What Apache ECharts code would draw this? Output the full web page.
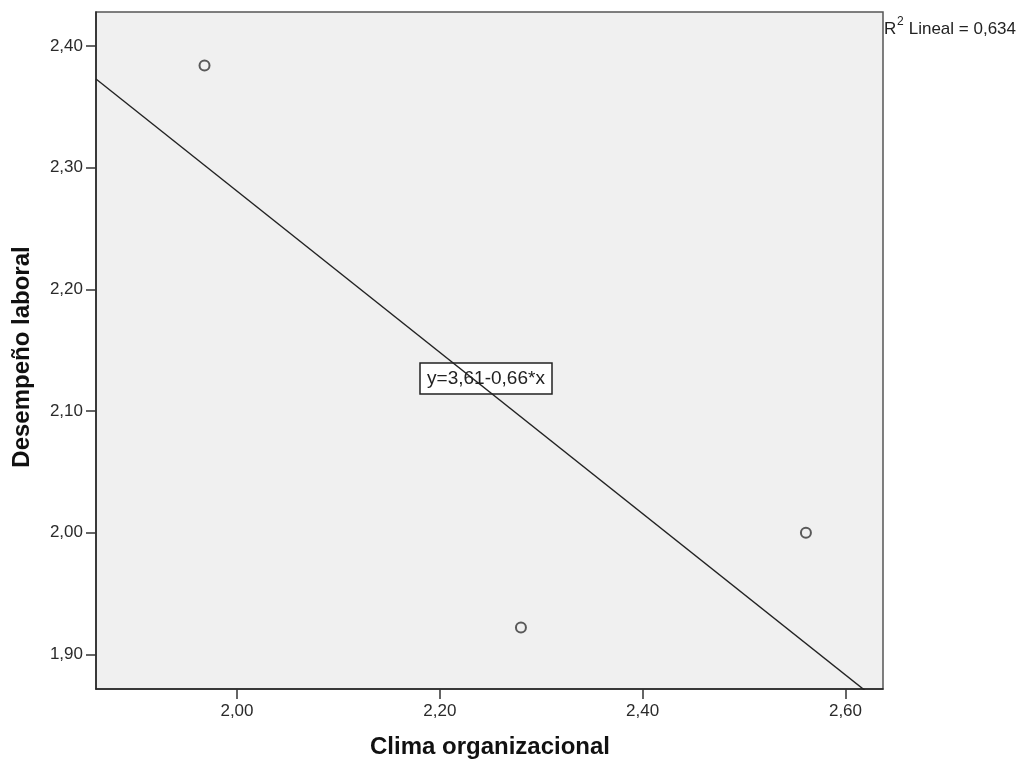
<!DOCTYPE html>
<html>
<head>
<meta charset="utf-8">
<script src="https://cdn.jsdelivr.net/npm/echarts@6/dist/echarts.min.js"></script>
<style>html,body{margin:0;padding:0;background:#fff}#c{width:1024px;height:760px}</style>
</head>
<body>
<div id="c"></div>
<script>
// Data
var climaOrganizacional = [1.968, 2.280, 2.561];
var desempenoLaboral = [2.384, 1.922, 2.000];
var xTicks = [2.00, 2.20, 2.40, 2.60];
var yTicks = [1.90, 2.00, 2.10, 2.20, 2.30, 2.40];
var xRange = [1.861, 2.637];
var yRange = [1.8715, 2.428];
var equationText = 'y=3,61-0,66*x';
var r2Text = ' Lineal = 0,634';

// Least-squares fit from the points
var n = climaOrganizacional.length;
var mx = climaOrganizacional.reduce(function(a,b){return a+b;},0)/n;
var my = desempenoLaboral.reduce(function(a,b){return a+b;},0)/n;
var sxy = 0, sxx = 0;
for (var i = 0; i < n; i++) {
  sxy += (climaOrganizacional[i]-mx)*(desempenoLaboral[i]-my);
  sxx += (climaOrganizacional[i]-mx)*(climaOrganizacional[i]-mx);
}
var slope = sxy/sxx, intercept = my - slope*mx;
var fitLine = [[xRange[0], intercept + slope*xRange[0]], [xRange[1], intercept + slope*xRange[1]]];
var points = climaOrganizacional.map(function(x,i){return [x, desempenoLaboral[i]];});

function fmt(v){ return v.toFixed(2).replace('.', ','); }

var chart = echarts.init(document.getElementById('c'));
var font = '"Liberation Sans", Arial, sans-serif';
chart.setOption({
  animation: false,
  grid: {left: 96, top: 12, right: 141, bottom: 71, show: true, backgroundColor: '#f0f0f0', borderColor: '#555', borderWidth: 1.5},
  xAxis: {
    type: 'value', min: xRange[0], max: xRange[1],
    axisLine: {onZero: false, lineStyle: {color: '#222', width: 1.5}},
    axisTick: {show: true, length: 10, customValues: xTicks, lineStyle: {color: '#333', width: 1.5}},
    axisLabel: {customValues: xTicks, formatter: fmt, margin: 14, fontSize: 17, color: '#2a2a2a', fontFamily: font},
    splitLine: {show: false}
  },
  yAxis: {
    type: 'value', min: yRange[0], max: yRange[1],
    axisLine: {onZero: false, lineStyle: {color: '#222', width: 1.5}},
    axisTick: {show: true, length: 10, customValues: yTicks, lineStyle: {color: '#333', width: 1.5}},
    axisLabel: {customValues: yTicks, formatter: fmt, margin: 13, fontSize: 17, color: '#2a2a2a', fontFamily: font},
    splitLine: {show: false}
  },
  series: [
    {type: 'line', data: fitLine, symbol: 'none', clip: true, lineStyle: {color: '#222', width: 1.4}, z: 2},
    {type: 'scatter', data: points, symbol: 'circle', symbolSize: 10,
      itemStyle: {color: '#f0f0f0', borderColor: '#333', borderWidth: 2}, z: 3}
  ],
  graphic: [
    {type: 'group', z: 10, children: [
      {type: 'rect', shape: {x: 420, y: 363, width: 132, height: 31}, style: {fill: '#fff', stroke: '#222', lineWidth: 1.5}},
      {type: 'text', x: 486, y: 379, style: {text: equationText, font: '19px ' + font, fill: '#222', align: 'center', verticalAlign: 'middle'}}
    ]},
    {type: 'text', x: 884, y: 29, style: {text: 'R', font: '17px ' + font, fill: '#222', align: 'left', verticalAlign: 'middle'}},
    {type: 'text', x: 897, y: 22, style: {text: '2', font: '12px ' + font, fill: '#222', align: 'left', verticalAlign: 'middle'}},
    {type: 'text', x: 904, y: 29, style: {text: r2Text, font: '17px ' + font, fill: '#222', align: 'left', verticalAlign: 'middle'}},
    {type: 'text', x: 490, y: 747, style: {text: 'Clima organizacional', font: 'bold 24px ' + font, fill: '#111', align: 'center', verticalAlign: 'middle'}},
    {type: 'text', x: 22, y: 357, rotation: Math.PI/2, style: {text: 'Desempeño laboral', font: 'bold 24px ' + font, fill: '#111', align: 'center', verticalAlign: 'middle'}}
  ]
});
</script>
</body>
</html>
